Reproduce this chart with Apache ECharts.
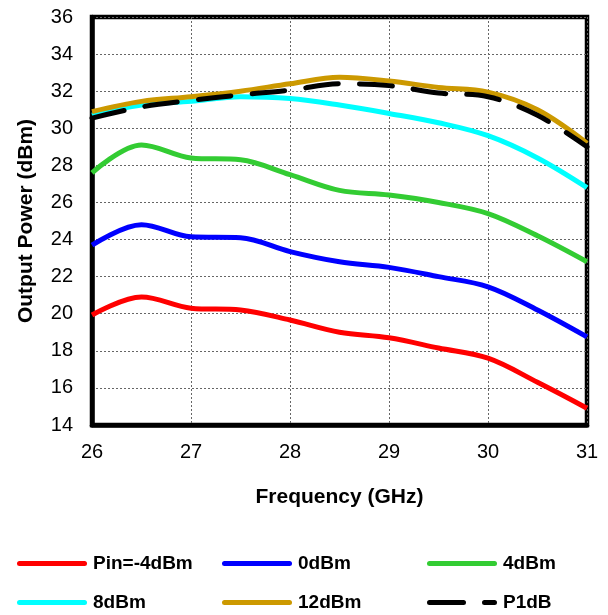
<!DOCTYPE html>
<html><head><meta charset="utf-8">
<script src="https://cdn.jsdelivr.net/npm/echarts@6/dist/echarts.min.js"></script>
<style>html,body{margin:0;padding:0;background:#fff}#c{width:608px;height:615px}</style>
</head><body><div id="c"></div>
<script>
const freq = [26, 26.5, 27, 27.5, 28, 28.5, 29, 29.5, 30, 30.5, 31];
const pinM4 = [19.93, 20.9, 20.3, 20.2, 19.66, 19.0, 18.7, 18.15, 17.6, 16.3, 14.9];
const pin0  = [23.7, 24.8, 24.15, 24.1, 23.35, 22.8, 22.5, 22.0, 21.45, 20.2, 18.75];
const pin4  = [27.6, 29.1, 28.4, 28.3, 27.5, 26.65, 26.4, 26.0, 25.4, 24.2, 22.8];
const pin8  = [30.7, 31.25, 31.45, 31.7, 31.6, 31.25, 30.8, 30.3, 29.6, 28.4, 26.8];
const pin12 = [30.9, 31.45, 31.7, 32.0, 32.4, 32.75, 32.55, 32.2, 31.95, 31.0, 29.2];
const p1db  = [30.55, 31.15, 31.5, 31.8, 32.05, 32.4, 32.3, 31.9, 31.7, 30.7, 29.0];
const seriesNames = ['Pin=-4dBm', '0dBm', '4dBm', '8dBm', '12dBm', 'P1dB'];
const seriesData = [pinM4, pin0, pin4, pin8, pin12, p1db];
const colors = ['#ff0000', '#0000ff', '#33cc33', '#00ffff', '#cc9900', '#000000'];
const xTicks = [26, 27, 28, 29, 30, 31];
const yTicks = [14, 16, 18, 20, 22, 24, 26, 28, 30, 32, 34, 36];

const chart = echarts.init(document.getElementById('c'));
const font = 'Liberation Sans, Arial, sans-serif';
const legendPos = [[17, 554], [222, 554], [427, 554], [17, 593], [222, 593], [427, 593]];
const solidIcon = 'path://M2.5,0 L67.5,0 A2.5,2.5 0 0 1 67.5,5 L2.5,5 A2.5,2.5 0 0 1 2.5,0 Z';
const dashIcon = 'path://M2.5,0 L36.5,0 A2.5,2.5 0 0 1 36.5,5 L2.5,5 A2.5,2.5 0 0 1 2.5,0 Z M57.5,0 L67.5,0 A2.5,2.5 0 0 1 67.5,5 L57.5,5 A2.5,2.5 0 0 1 57.5,0 Z';
const legends = seriesNames.map((n, i) => ({
  data: [n], left: legendPos[i][0], top: legendPos[i][1],
  itemWidth: 70, itemHeight: 5, itemGap: 0, padding: 0,
  icon: i === 5 ? dashIcon : solidIcon,
  textStyle: {fontFamily: font, fontSize: 19, fontWeight: 'bold', color: '#000', padding: [0, 0, 0, 1]},
  selectedMode: false
}));
chart.setOption({
  animation: false,
  color: colors,
  grid: {left: 92, top: 17, width: 495, height: 408, show: true, borderColor: '#000', borderWidth: 4.5, backgroundColor: 'transparent'},
  legend: legends,
  xAxis: {
    type: 'value', min: 26, max: 31, interval: 1,
    name: 'Frequency (GHz)', nameLocation: 'middle', nameGap: 62,
    nameTextStyle: {fontFamily: font, fontSize: 21, fontWeight: 'bold', color: '#000'},
    axisLine: {show: true, lineStyle: {color: '#000', width: 4.5}},
    axisTick: {show: false},
    axisLabel: {fontFamily: font, fontSize: 20, color: '#000', margin: 17},
    splitLine: {show: true, lineStyle: {color: '#666', type: [2, 2], width: 1}}
  },
  yAxis: {
    type: 'value', min: 14, max: 36, interval: 2,
    name: 'Output Power (dBm)', nameLocation: 'middle', nameGap: 55,
    nameTextStyle: {fontFamily: font, fontSize: 21, fontWeight: 'bold', color: '#000'},
    axisLine: {show: true, lineStyle: {color: '#000', width: 4.5}},
    axisTick: {show: false},
    axisLabel: {fontFamily: font, fontSize: 20, color: '#000', margin: 19},
    splitLine: {show: true, lineStyle: {color: '#666', type: [2, 2], width: 1}}
  },
  series: seriesNames.map((n, i) => ({
    name: n, type: 'line', smooth: 0.35, symbol: 'none',
    data: freq.map((f, k) => [f, seriesData[i][k]]),
    lineStyle: {color: colors[i], width: 5, type: i === 5 ? [33, 21] : 'solid', cap: i === 5 ? 'round' : 'butt'},
    z: i === 5 ? 10 : 2 + i
  }))
});
</script></body></html>
